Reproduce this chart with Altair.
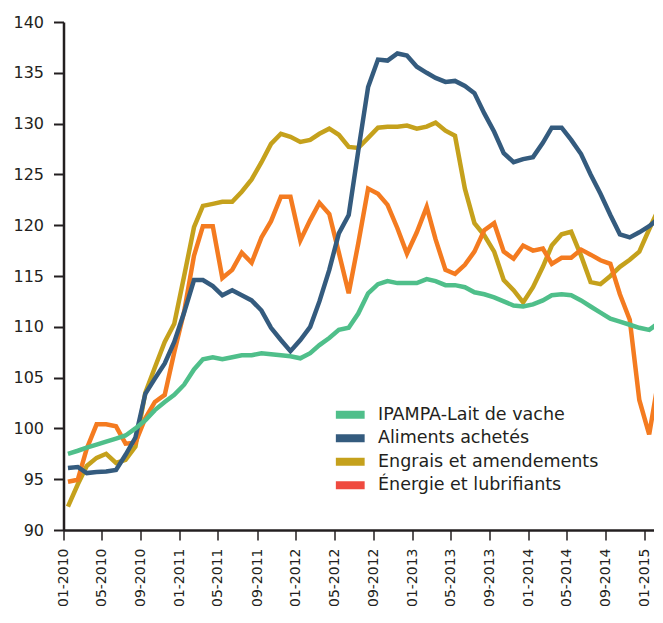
import altair as alt
import pandas as pd

# ---- categories -------------------------------------------------------------
series_names = [
    "IPAMPA-Lait de vache",
    "Aliments achetés",
    "Engrais et amendements",
    "Énergie et lubrifiants",
]
# monthly observations, 01-2010 .. 02-2015 (plotted mid-month)
month_labels = [f"{2010 + i // 12}-{i % 12 + 1:02d}" for i in range(62)]
tick_months = [(2010, 1), (2010, 5), (2010, 9), (2011, 1), (2011, 5), (2011, 9),
               (2012, 1), (2012, 5), (2012, 9), (2013, 1), (2013, 5), (2013, 9),
               (2014, 1), (2014, 5), (2014, 9), (2015, 1)]

# ---- series values ----------------------------------------------------------
ipampa = [97.5, 97.8, 98.1, 98.4, 98.7, 99.0, 99.3, 100.0, 100.8, 101.8,
          102.6, 103.3, 104.3, 105.8, 106.8, 107.0, 106.8, 107.0, 107.2, 107.2,
          107.4, 107.3, 107.2, 107.1, 106.9, 107.4, 108.2, 108.9, 109.7, 109.9,
          111.3, 113.3, 114.2, 114.5, 114.3, 114.3, 114.3, 114.7, 114.5, 114.1,
          114.1, 113.9, 113.4, 113.2, 112.9, 112.5, 112.1, 112.0, 112.2, 112.6,
          113.1, 113.2, 113.1, 112.6, 112.0, 111.4, 110.8, 110.5, 110.2, 109.9,
          109.7, 110.4]
aliments = [96.1, 96.2, 95.6, 95.7, 95.75, 95.9, 97.4, 99.1, 103.4, 104.9,
            106.4, 108.5, 111.4, 114.6, 114.6, 114.0, 113.1, 113.6, 113.1, 112.6,
            111.6, 109.9, 108.7, 107.6, 108.7, 110.0, 112.5, 115.6, 119.2, 121.0,
            127.3, 133.6, 136.3, 136.2, 136.9, 136.7, 135.6, 135.0, 134.5, 134.1,
            134.2, 133.7, 133.0, 131.0, 129.2, 127.1, 126.2, 126.5, 126.7, 128.1,
            129.6, 129.6, 128.4, 127.0, 125.0, 123.1, 121.0, 119.1, 118.8, 119.3,
            119.9, 120.7]
engrais = [92.3, 94.5, 96.3, 97.1, 97.5, 96.6, 96.9, 98.2, 103.5, 106.0,
           108.5, 110.3, 115.0, 119.8, 121.9, 122.1, 122.3, 122.3, 123.3, 124.5,
           126.2, 128.0, 129.0, 128.7, 128.2, 128.4, 129.0, 129.5, 128.9, 127.7,
           127.6, 128.6, 129.6, 129.7, 129.7, 129.8, 129.5, 129.7, 130.1, 129.3,
           128.8, 123.6, 120.2, 119.0, 117.4, 114.6, 113.6, 112.4, 113.9, 115.9,
           118.0, 119.1, 119.35, 117.0, 114.4, 114.2, 115.0, 115.9, 116.6, 117.4,
           119.6, 121.7]
energie = [94.75, 94.95, 98.0, 100.4, 100.4, 100.2, 98.5, 98.6, 101.0, 102.6,
           103.3, 107.5, 111.5, 117.0, 119.9, 119.9, 114.8, 115.6, 117.3, 116.3,
           118.8, 120.4, 122.8, 122.8, 118.5, 120.5, 122.2, 121.1, 117.3, 113.3,
           118.2, 123.6, 123.1, 122.0, 119.7, 117.2, 119.3, 121.8, 118.6, 115.6,
           115.2, 116.1, 117.4, 119.5, 120.2, 117.4, 116.7, 118.0, 117.5, 117.7,
           116.2, 116.8, 116.8, 117.6, 117.1, 116.55, 116.2, 113.2, 110.7, 102.8,
           99.4, 105.1]

line_colors = ["#4fbf8a", "#345b7e", "#c5a11c", "#f47b20"]
legend_colors = ["#4fbf8a", "#345b7e", "#c5a11c", "#ef4a3f"]
y_ticks = [90, 95, 100, 105, 110, 115, 120, 125, 130, 135, 140]

# ---- table (drawing order: bottom first) ------------------------------------
values_by_name = dict(zip(series_names, [ipampa, aliments, engrais, energie]))
draw_order = [series_names[2], series_names[3], series_names[1], series_names[0]]
rows = []
for name in draw_order:
    for lab, v in zip(month_labels, values_by_name[name]):
        rows.append({"date": lab + "-15", "value": v, "series": name})
df = pd.DataFrame(rows)

ink = "#231f20"
font = "DejaVu Sans"

x_enc = alt.X(
    "date:T",
    scale=alt.Scale(
        type="utc",
        domain=[alt.DateTime(year=2010, month=1, date=1, utc=True),
                alt.DateTime(year=2015, month=3, date=1, utc=True)],
    ),
    axis=alt.Axis(
        values=[alt.DateTime(year=y, month=m, date=1, utc=True) for y, m in tick_months],
        format="%m-%Y", labelAngle=-90, labelFontSize=14, tickSize=10,
        tickWidth=1.5, domainWidth=2.5, labelPadding=8, grid=False,
        labelOverlap=False, labelFlush=False, labelBound=False, title=None,
    ),
)
y_enc = alt.Y(
    "value:Q",
    scale=alt.Scale(domain=[90, 140], nice=False, zero=False),
    axis=alt.Axis(values=y_ticks, labelFontSize=16, tickSize=10, tickWidth=2,
                  domainWidth=2.5, labelPadding=10, grid=False, title=None),
)

base = alt.Chart(df)

# line colours: domain in reverse order so this scale is not merged with the legend one
lines = base.mark_line(strokeWidth=4.5).encode(
    x=x_enc, y=y_enc,
    color=alt.Color("series:N",
                    scale=alt.Scale(domain=series_names[::-1], range=line_colors[::-1]),
                    legend=None),
)

legend_layer = base.mark_point(filled=True, opacity=0, size=1).encode(
    x=x_enc, y=y_enc,
    fill=alt.Fill(
        "series:N",
        scale=alt.Scale(domain=series_names, range=legend_colors),
        legend=alt.Legend(
            orient="none", legendX=278, legendY=384, title=None,
            symbolType="M-3.6,-1H3.6V1H-3.6Z", symbolSize=64,
            symbolOpacity=1, symbolStrokeWidth=0,
            labelFontSize=17.5, labelFont=font, labelColor=ink,
            labelOffset=19, rowPadding=4.5, padding=0, labelLimit=400,
        ),
    ),
)

chart = (
    alt.layer(lines, legend_layer)
    .properties(
        width=600, height=508,
        autosize=alt.AutoSizeParams(type="none"),
        padding={"left": 55.5, "top": 14, "right": -9.5, "bottom": 78},
        background="white",
    )
    .configure_view(stroke=None)
    .configure_axis(labelFont=font, labelColor=ink, domainColor=ink, tickColor=ink)
)

chart.save("out.html", embed_options={"renderer": "svg", "actions": False})
